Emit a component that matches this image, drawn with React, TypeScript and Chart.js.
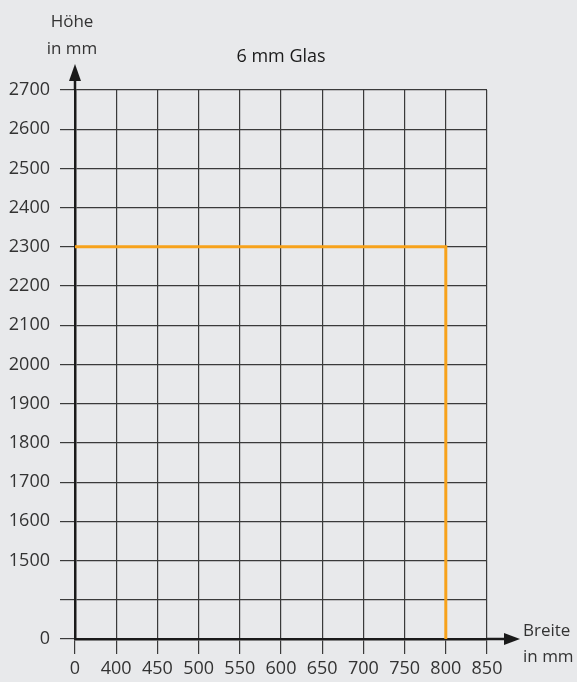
import React, { useEffect, useRef } from "react";
import { Chart, registerables } from "chart.js";

Chart.register(...registerables);

const widthLabels = ["0", "400", "450", "500", "550", "600", "650", "700", "750", "800", "850"];
const heightLabels = ["0", "", "1500", "1600", "1700", "1800", "1900", "2000", "2100", "2200", "2300", "2400", "2500", "2600", "2700"];
const limitWidth = "800";
const limitHeight = "2300";
const title = "6 mm Glas";
const yAxisTitle = ["Höhe", "in mm"];
const xAxisTitle = ["Breite", "in mm"];

const FONT = "'Open Sans', 'Noto Sans', sans-serif";
const TEXT = "#333333";

export default function App() {
  const ref = useRef<HTMLCanvasElement | null>(null);

  useEffect(() => {
    document.body.style.margin = "0";
    const canvas = ref.current!;
    const xi = widthLabels.indexOf(limitWidth);
    const yi = heightLabels.indexOf(limitHeight);

    const decor = {
      id: "decor",
      afterDraw(chart: any) {
        const ctx = chart.ctx;
        const { left, right, top, bottom } = chart.chartArea;
        ctx.save();
        ctx.fillStyle = "#1a1a1a";
        // y arrow
        ctx.beginPath();
        ctx.moveTo(left, top - 26);
        ctx.lineTo(left - 6, top - 9);
        ctx.lineTo(left + 6, top - 9);
        ctx.closePath();
        ctx.fill();
        ctx.strokeStyle = "#1a1a1a";
        ctx.lineWidth = 2.5;
        ctx.beginPath();
        ctx.moveTo(left, top);
        ctx.lineTo(left, top - 12);
        ctx.stroke();
        // x arrow
        ctx.beginPath();
        ctx.moveTo(right + 33, bottom);
        ctx.lineTo(right + 17, bottom - 6);
        ctx.lineTo(right + 17, bottom + 6);
        ctx.closePath();
        ctx.fill();
        ctx.beginPath();
        ctx.moveTo(right, bottom);
        ctx.lineTo(right + 20, bottom);
        ctx.stroke();
        // texts
        ctx.fillStyle = TEXT;
        ctx.font = `17px ${FONT}`;
        ctx.textAlign = "center";
        ctx.textBaseline = "middle";
        ctx.fillText(yAxisTitle[0], left - 3, 22);
        ctx.fillText(yAxisTitle[1], left - 3, 49);
        ctx.textAlign = "left";
        ctx.fillText(xAxisTitle[0], right + 36, bottom - 8);
        ctx.fillText(xAxisTitle[1], right + 36, bottom + 18);
        ctx.textAlign = "center";
        ctx.fillStyle = "#1a1a1a";
        ctx.font = `18px ${FONT}`;
        ctx.fillText(title, 281, 57);
        ctx.restore();
      },
    };

    const grid = {
      color: "#3a3a3a",
      lineWidth: 1.2,
      tickLength: 15,
      drawTicks: true,
    };

    const chart = new Chart(canvas, {
      type: "line",
      data: {
        datasets: [
          {
            data: [
              { x: 0, y: yi },
              { x: xi, y: yi },
              { x: xi, y: 0 },
            ],
            borderColor: "#f7a21b",
            borderWidth: 3,
            pointRadius: 0,
            fill: false,
            tension: 0,
          },
        ],
      },
      options: {
        animation: false,
        responsive: false,
        maintainAspectRatio: false,
        layout: { padding: { top: 90, right: 90, left: 0, bottom: 0 } },
        plugins: { legend: { display: false }, tooltip: { enabled: false }, title: { display: false } },
        scales: {
          x: {
            type: "linear",
            min: 0,
            max: widthLabels.length - 1,
            afterBuildTicks: (s: any) => {
              s.ticks = widthLabels.map((_, i) => ({ value: i }));
            },
            afterFit: (s: any) => {
              s.height = 43;
            },
            ticks: {
              autoSkip: false,
              maxRotation: 0,
              padding: 4,
              color: TEXT,
              font: { family: FONT, size: 18 },
              callback: (v: any) => widthLabels[v],
            },
            grid,
            border: { color: "#1a1a1a", width: 2.5 },
          },
          y: {
            type: "linear",
            min: 0,
            max: heightLabels.length - 1,
            afterBuildTicks: (s: any) => {
              s.ticks = heightLabels.map((_, i) => ({ value: i }));
            },
            afterFit: (s: any) => {
              s.width = 75;
            },
            ticks: {
              autoSkip: false,
              padding: 10,
              color: TEXT,
              font: { family: FONT, size: 18 },
              callback: (v: any) => heightLabels[v],
            },
            grid,
            border: { color: "#1a1a1a", width: 2.5 },
          },
        },
      },
      plugins: [decor],
    } as any);

    return () => chart.destroy();
  }, []);

  return (
    <div style={{ position: "fixed", left: 0, top: 0, width: 577, height: 682, background: "#e8e9eb" }}>
      <canvas ref={ref} width={577} height={682} style={{ width: 577, height: 682, display: "block" }} />
    </div>
  );
}
